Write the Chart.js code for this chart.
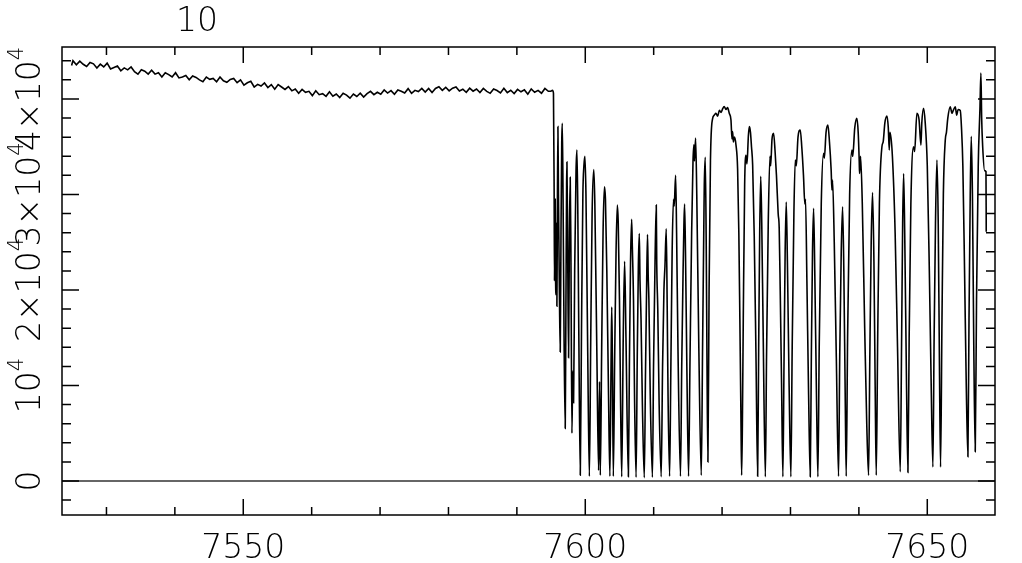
<!DOCTYPE html>
<html><head><meta charset="utf-8">
<script src="https://cdn.jsdelivr.net/npm/chart.js@4.4.1/dist/chart.umd.min.js"></script>
<style>html,body{margin:0;padding:0;background:#fff;} #wrap{width:1022px;height:563px;position:relative;}</style>
</head><body><div id="wrap"><canvas id="c"></canvas></div>
<script>
// ---- data: wavelength (Angstrom), flux ----
const continuum = [
[7524.9,43500],[7525.1,44000],[7525.6,43570],[7526.1,43950],[7526.6,43630],[7527.1,43400],[7527.6,43820],[7528.1,43680],[7528.6,43250],[7529.1,43650],
[7529.6,43350],[7530.1,43750],[7530.6,43150],[7531.1,43300],[7531.6,43450],[7532.1,42950],[7532.6,43250],[7533.1,43050],[7533.6,43350],[7534.1,42850],
[7534.6,42600],[7535.1,43050],[7535.6,42900],[7536.1,42600],[7536.6,43000],[7537.1,42600],[7537.6,42750],[7538.1,42300],[7538.6,42750],[7539.1,42550],
[7539.6,42300],[7540.1,42750],[7540.6,42200],[7541.1,42300],[7541.6,42450],[7542.1,42000],[7542.6,42400],[7543.1,42250],[7543.6,42000],[7544.1,41800],
[7544.6,42300],[7545.1,42050],[7545.6,42150],[7546.1,41800],[7546.6,42300],[7547.1,41900],[7547.6,41750],[7548.1,42050],[7548.6,42150],[7549.1,41700],
[7549.6,42000],[7550.1,41450],[7550.6,41700],[7551.1,41850],[7551.6,41250],[7552.1,41530],[7552.6,41350],[7553.1,41670],[7553.6,41200],[7554.1,41500],
[7554.6,41020],[7555.1,41500],[7555.6,41250],[7556.1,41000],[7556.6,41300],[7557.1,40850],[7557.6,41050],[7558.1,40600],[7558.6,41000],[7559.1,40700],
[7559.6,40800],[7560.1,40350],[7560.6,40850],[7561.1,40450],[7561.6,40550],[7562.1,40280],[7562.6,40750],[7563.1,40280],[7563.6,40520],[7564.1,40150],
[7564.6,40600],[7565.1,40400],[7565.6,40080],[7566.1,40520],[7566.6,40260],[7567.1,40600],[7567.6,40200],[7568.1,40550],[7568.6,40800],[7569.1,40450],
[7569.6,40700],[7570.1,40500],[7570.6,40950],[7571.1,40620],[7571.6,40870],[7572.1,40500],[7572.6,40950],[7573.1,40810],[7573.6,40620],[7574.1,41080],
[7574.6,40590],[7575.1,40900],[7575.6,40770],[7576.1,41100],[7576.6,40720],[7577.1,41100],[7577.6,40670],[7578.1,41100],[7578.6,41280],[7579.1,40900],
[7579.6,41220],[7580.1,40850],[7580.6,41130],[7581.1,41260],[7581.6,40840],[7582.1,41020],[7582.6,40700],[7583.1,41130],[7583.6,40810],[7584.1,41040],
[7584.6,40670],[7585.1,41100],[7585.6,40800],[7586.1,40590],[7586.6,41040],[7587.1,40880],[7587.6,40630],[7588.1,41120],[7588.6,40670],[7589.1,40910],
[7589.6,40560],[7590.1,41000],[7590.6,40750],[7591.1,40950],[7591.6,40500],[7592.1,41050],[7592.6,40700],[7593.1,40900],[7593.6,40600],[7594.1,41100],
[7594.6,40800],[7595.0,40800]
];
const band = [
[7595.0,40800],
[7595.2,40900],[7595.35,40600],[7595.45,30000],[7595.5,21000],[7595.55,26000],[7595.6,29500],[7595.65,22000],[7595.72,19500],[7595.78,27000],[7595.85,18300],
[7595.92,28000],[7596.0,37100],[7596.08,30000],[7596.2,21000],[7596.34,13500],[7596.45,26000],[7596.56,35500],[7596.64,37450],[7596.75,30000],[7596.9,15000],
[7597.07,5500],[7597.17,18000],[7597.27,31000],[7597.32,33400],[7597.42,25000],[7597.56,12900],[7597.68,26000],[7597.8,31800],[7597.9,24000],[7598.05,5000],
[7598.17,11500],[7598.29,8200],[7598.45,22000],[7598.65,32500],[7598.78,34660],[7598.9,29000],[7599.05,16000],[7599.27,600],[7599.45,16000],[7599.65,30000],
[7599.8,33000],[7599.95,34000],[7600.1,30000],[7600.35,14000],[7600.6,500],[7600.8,15000],[7601.0,28000],[7601.25,32600],[7601.4,29000],[7601.7,13000],
[7601.95,1100],[7602.08,10400],[7602.2,600],[7602.4,14000],[7602.6,26000],[7602.8,30800],[7602.95,29500],[7603.15,22000],[7603.4,9000],[7603.6,500],
[7603.78,13000],[7603.87,18200],[7603.96,13000],[7604.1,500],[7604.3,13000],[7604.5,24000],[7604.68,28900],[7604.82,27000],[7605.0,19000],[7605.15,9000],
[7605.33,450],[7605.55,15000],[7605.75,23000],[7605.95,15000],[7606.3,450],[7606.45,12000],[7606.62,23000],[7606.78,27400],[7606.88,24500],[7607.05,19000],
[7607.2,9000],[7607.43,400],[7607.6,13000],[7607.76,22500],[7607.9,25900],[7608.0,21000],[7608.15,17000],[7608.35,8000],[7608.63,350],[7608.8,11000],
[7608.98,21000],[7609.1,25800],[7609.2,21500],[7609.3,19000],[7609.5,9000],[7609.82,400],[7609.98,12000],[7610.2,23000],[7610.38,28900],[7610.45,22700],
[7610.6,18000],[7610.8,8000],[7611.1,450],[7611.3,12000],[7611.5,20000],[7611.65,22500],[7611.84,26400],[7611.98,18000],[7612.1,9000],[7612.33,500],
[7612.5,11000],[7612.7,24000],[7612.9,29500],[7613.0,28800],[7613.21,32000],[7613.35,26000],[7613.55,14000],[7613.92,500],[7614.1,12000],[7614.3,22000],
[7614.42,26800],[7614.52,29000],[7614.65,24000],[7614.85,12000],[7615.1,500],[7615.3,12000],[7615.55,26000],[7615.75,33500],[7615.88,35200],[7615.96,33500],
[7616.13,35900],[7616.3,30000],[7616.6,14000],[7616.96,600],[7617.15,14000],[7617.35,28000],[7617.4,31000],[7617.54,33900],[7617.68,25000],[7617.8,12000],
[7617.93,2000],[7618.1,20000],[7618.3,33500],[7618.6,37900],[7618.85,38300],[7619.1,38500],[7619.35,38200],[7619.6,38800],[7619.85,38600],[7620.1,39000],
[7620.3,39200],[7620.6,38900],[7620.8,39100],[7621.05,38500],[7621.3,37800],[7621.45,35800],[7621.54,36600],[7621.65,35500],[7621.8,36000],[7622.03,35200],
[7622.27,32700],[7622.45,26000],[7622.6,17000],[7622.76,6600],[7622.86,600],[7622.97,6000],[7623.1,17000],[7623.3,31000],[7623.49,34100],[7623.64,33200],
[7623.85,36200],[7624.0,37100],[7624.15,36500],[7624.3,35000],[7624.47,33100],[7624.7,25700],[7624.95,13500],[7625.2,500],[7625.35,14000],[7625.5,26000],
[7625.65,31900],[7625.8,27000],[7626.0,16000],[7626.33,450],[7626.5,13000],[7626.75,27000],[7627.0,34000],[7627.1,33000],[7627.3,35800],[7627.53,36400],
[7627.75,34500],[7627.95,32000],[7628.2,28000],[7628.35,26500],[7628.5,20000],[7628.7,10000],[7628.89,450],[7629.05,12000],[7629.22,24000],[7629.38,29200],
[7629.55,23000],[7629.8,10000],[7630.06,450],[7630.25,14000],[7630.5,28000],[7630.7,33600],[7630.85,33000],[7631.1,36000],[7631.43,36750],[7631.65,35000],
[7631.9,32000],[7632.1,29000],[7632.2,29500],[7632.4,21000],[7632.65,9000],[7632.89,450],[7633.05,13000],[7633.22,24000],[7633.38,28550],[7633.55,22000],
[7633.8,9000],[7634.01,450],[7634.2,14000],[7634.5,29000],[7634.84,34300],[7634.95,33800],[7635.2,36500],[7635.47,37270],[7635.7,35500],[7635.95,32500],
[7636.06,30470],[7636.15,31500],[7636.4,25000],[7636.7,13000],[7637.03,500],[7637.2,13000],[7637.42,24000],[7637.62,28720],[7637.8,22000],[7638.0,9000],
[7638.15,500],[7638.35,15000],[7638.65,30000],[7638.98,34660],[7639.1,34000],[7639.4,37000],[7639.71,37970],[7639.9,36500],[7640.05,33500],[7640.1,32200],
[7640.25,34000],[7640.5,29000],[7640.85,16000],[7641.15,6000],[7641.42,600],[7641.6,13000],[7641.8,25000],[7642.0,30190],[7642.2,23000],[7642.38,10000],
[7642.54,600],[7642.75,15000],[7643.0,29000],[7643.37,35000],[7643.55,35500],[7643.8,37500],[7644.1,38220],[7644.3,37000],[7644.44,34660],[7644.55,36500],
[7644.9,34000],[7645.3,26000],[7645.65,14000],[7646.05,970],[7646.25,15000],[7646.4,27000],[7646.54,32200],[7646.7,26000],[7646.95,11000],[7647.17,900],
[7647.35,15000],[7647.6,29000],[7648.0,35000],[7648.15,34500],[7648.48,38500],[7648.8,37800],[7649.07,35170],[7649.2,37500],[7649.46,39020],[7649.7,37500],
[7650.0,33000],[7650.3,22000],[7650.55,11000],[7650.82,1470],[7651.0,15000],[7651.2,27000],[7651.41,33600],[7651.6,27000],[7651.78,12000],[7651.94,1470],
[7652.15,17000],[7652.35,30000],[7652.63,35700],[7652.8,36500],[7653.0,38000],[7653.36,39190],[7653.6,38500],[7653.8,38800],[7654.09,39190],[7654.3,38300],
[7654.5,38900],[7654.82,38800],[7655.0,37000],[7655.2,33000],[7655.45,22000],[7655.7,10000],[7655.94,2540],[7656.1,17000],[7656.28,30000],[7656.43,36100],
[7656.6,30000],[7656.8,14000],[7657.01,3070],[7657.2,19000],[7657.45,33000],[7657.7,39000],[7657.84,42700],[7657.95,38000],[7658.1,35000],[7658.38,32500],
[7658.58,32400],[7658.62,26100]
];
const xRange = [7523.5, 7659.9];
const yRange = [-3560, 45440];
const xMajorTicks = [7550, 7600, 7650];
const xMinorTicks = [7530, 7540, 7560, 7570, 7580, 7590, 7610, 7620, 7630, 7640];
const xTickLabels = ['7550', '7600', '7650'];
const yMajorTicks = [0, 10000, 20000, 30000, 40000];
const yMinorTicks = [-2000, 2000, 4000, 6000, 8000, 12000, 14000, 16000, 18000, 22000, 24000, 26000, 28000, 32000, 34000, 36000, 38000, 42000, 44000];
const yTickBase = ['0', '10', '2\u00d710', '3\u00d710', '4\u00d710'];
const yTickSup = ['', '4', '4', '4', '4'];
const topLabel = '10';

const FONT = '"DejaVu Sans", "Liberation Sans", sans-serif';
const toXY = arr => arr.map(p => ({x: p[0], y: p[1]}));

const decor = {
  id: 'decor',
  beforeDatasetsDraw(chart) {
    const {ctx, chartArea: a, scales: {x, y}} = chart;
    ctx.save();
    ctx.strokeStyle = '#333';
    ctx.lineWidth = 1.6;
    const y0 = y.getPixelForValue(0);
    ctx.beginPath(); ctx.moveTo(a.left, y0); ctx.lineTo(a.right, y0); ctx.stroke();
    ctx.restore();
  },
  afterDraw(chart) {
    const {ctx, chartArea: a, scales: {x, y}} = chart;
    ctx.save();
    ctx.strokeStyle = '#000';
    ctx.lineWidth = 1.5;
    ctx.strokeRect(a.left, a.top, a.right - a.left, a.bottom - a.top);
    ctx.beginPath();
    const xt = (v, len) => {
      const px = x.getPixelForValue(v);
      ctx.moveTo(px, a.bottom); ctx.lineTo(px, a.bottom - len);
      ctx.moveTo(px, a.top); ctx.lineTo(px, a.top + len);
    };
    const yt = (v, len) => {
      const py = y.getPixelForValue(v);
      ctx.moveTo(a.left, py); ctx.lineTo(a.left + len, py);
      ctx.moveTo(a.right, py); ctx.lineTo(a.right - len, py);
    };
    xMajorTicks.forEach(v => xt(v, 16));
    xMinorTicks.forEach(v => xt(v, 8));
    yMajorTicks.forEach(v => yt(v, 17));
    yMinorTicks.forEach(v => yt(v, 9));
    ctx.stroke();

    ctx.fillStyle = '#000';
    ctx.font = '200 33px ' + FONT;
    ctx.textAlign = 'center';
    ctx.textBaseline = 'alphabetic';
    xMajorTicks.forEach((v, i) => ctx.fillText(xTickLabels[i], x.getPixelForValue(v), 558));
    ctx.fillText(topLabel, 197, 31);

    // rotated y labels
    const mainF = '200 33px ' + FONT, supF = '200 21px ' + FONT;
    yMajorTicks.forEach((v, i) => {
      const py = y.getPixelForValue(v);
      ctx.font = mainF; const w1 = ctx.measureText(yTickBase[i]).width;
      ctx.font = supF; const w2 = yTickSup[i] ? ctx.measureText(yTickSup[i]).width : 0;
      const tot = w1 + w2;
      ctx.save();
      ctx.translate(40, py);
      ctx.rotate(-Math.PI / 2);
      ctx.textAlign = 'left';
      ctx.font = mainF; ctx.fillText(yTickBase[i], -tot / 2, 0);
      if (yTickSup[i]) { ctx.font = supF; ctx.fillText(yTickSup[i], -tot / 2 + w1, -17); }
      ctx.restore();
    });
    ctx.restore();
  }
};

new Chart(document.getElementById('c'), {
  type: 'line',
  data: { datasets: [
    { data: toXY(continuum), borderColor: '#000', borderWidth: 1.6, pointRadius: 0, fill: false, tension: 0 },
    { data: toXY(band), borderColor: '#000', borderWidth: 1.6, pointRadius: 0, fill: false, cubicInterpolationMode: 'monotone' }
  ] },
  options: {
    responsive: true, maintainAspectRatio: false, animation: false, devicePixelRatio: 1,
    layout: { padding: { left: 62, right: 27, top: 47, bottom: 48 } },
    plugins: { legend: { display: false }, tooltip: { enabled: false } },
    scales: {
      x: { type: 'linear', min: xRange[0], max: xRange[1], display: false },
      y: { type: 'linear', min: yRange[0], max: yRange[1], display: false }
    }
  },
  plugins: [decor]
});
</script></body></html>
